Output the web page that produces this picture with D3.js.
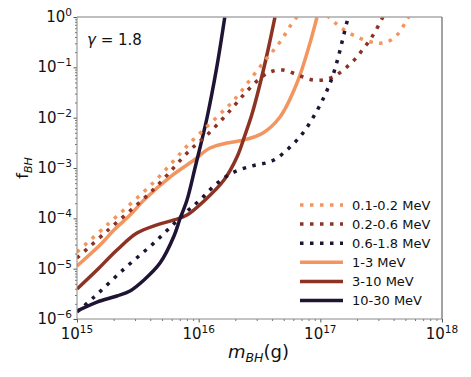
<!DOCTYPE html>
<html>
<head>
<meta charset="utf-8">
<script src="https://cdn.jsdelivr.net/npm/d3@7"></script>
<style>
body { margin: 0; background: #fff; }
svg { font-family: "DejaVu Sans", sans-serif; }
</style>
</head>
<body>
<div id="chart"></div>
<script>
/*
Data (mass in g, f_BH fraction)
*/
const labels = ["0.1-0.2 MeV", "0.2-0.6 MeV", "0.6-1.8 MeV", "1-3 MeV", "3-10 MeV", "10-30 MeV"];
const colors = ["#f3955e", "#8c3323", "#1f1433", "#f3955e", "#8c3323", "#1f1433"];
const dotted = [true, true, true, false, false, false];

const m_01 = [1e15, 1.765e15, 4.29e15, 8.49e15, 1.47e16, 1.952e16, 3.193e16, 4.66e16, 6.43e16, 8.7e16, 1.2e17, 1.45e17, 2.0e17, 2.92e17, 3.53e17, 4.27e17, 5.25e17, 6.0e17];
const f_01 = [2.14e-5, 7.37e-5, 5.27e-4, 3.14e-3, 1.13e-2, 2.24e-2, 0.102, 0.319, 1.0, 1.65, 0.955, 0.633, 0.401, 0.304, 0.319, 0.439, 0.955, 1.7];

const m_02 = [1e15, 1.765e15, 4.29e15, 8.49e15, 1.171e16, 1.71e16, 2.544e16, 3.378e16, 4.08e16, 4.93e16, 5.96e16, 7.2e16, 8.7e16, 1.052e17, 1.271e17, 1.507e17, 1.753e17, 2.0e17, 2.242e17, 2.56e17, 2.87e17, 3.27e17, 3.6e17];
const f_02 = [1.63e-5, 5.6e-5, 3.83e-4, 2.28e-3, 4.52e-3, 1.18e-2, 3.55e-2, 6.73e-2, 8.45e-2, 8.85e-2, 7.71e-2, 6.43e-2, 5.6e-2, 5.6e-2, 6.43e-2, 8.45e-2, 0.116, 0.16, 0.231, 0.349, 0.552, 1.0, 1.51];

const m_06 = [1e15, 1.354e15, 2.434e15, 4.38e15, 7.72e15, 1.025e16, 1.362e16, 1.879e16, 2.744e16, 4.01e16, 5.53e16, 7.2e16, 8.87e16, 1.072e17, 1.247e17, 1.397e17, 1.536e17, 1.688e17, 1.786e17];
const f_06 = [1.38e-6, 2.61e-6, 9.84e-6, 3.39e-5, 1.28e-4, 2.31e-4, 4.59e-4, 7.95e-4, 1.1e-3, 1.38e-3, 2.49e-3, 4.96e-3, 1.08e-2, 2.57e-2, 6.14e-2, 0.153, 0.383, 0.955, 1.51];

const m_1 = [1e15, 1.545e15, 2.014e15, 2.727e15, 3.553e15, 5.81e15, 9.16e15, 1.239e16, 1.71e16, 2.358e16, 3.378e16, 4.66e16, 6.43e16, 8.22e16, 9.39e16];
const f_1 = [1.13e-5, 2.95e-5, 5.86e-5, 1.16e-4, 2.31e-4, 6.62e-4, 1.44e-3, 2.49e-3, 3.14e-3, 3.6e-3, 4.96e-3, 1.03e-2, 4.88e-2, 0.304, 1.0];

const m_3 = [1e15, 1.46e15, 2.13e15, 3.11e15, 4.54e15, 6.27e15, 8.02e15, 1.107e16, 1.616e16, 2.065e16, 2.403e16, 2.744e16, 3.193e16, 3.714e16, 4.24e16];
const f_3 = [3.94e-6, 9.4e-6, 2.35e-5, 5.1e-5, 7.4e-5, 9.3e-5, 1.16e-4, 2.21e-4, 5.77e-4, 1.65e-3, 4.52e-3, 1.18e-2, 4.67e-2, 0.221, 1.0];

const m_10 = [1e15, 1.46e15, 2.13e15, 2.727e15, 3.553e15, 4.81e15, 6.27e15, 7.01e15, 8.02e15, 9.33e15, 1.17e16, 1.41e16, 1.64e16];
const f_10 = [1.44e-6, 2.17e-6, 2.86e-6, 3.6e-6, 5.95e-6, 1.29e-5, 4.46e-5, 9.7e-5, 2.31e-4, 1.0e-3, 9.85e-3, 0.102, 1.0];

const masses = [m_01, m_02, m_06, m_1, m_3, m_10];
const fracs = [f_01, f_02, f_06, f_1, f_3, f_10];

const x_ticks = [1e15, 1e16, 1e17, 1e18];
const x_exp = ["15", "16", "17", "18"];
const y_ticks = [1, 1e-1, 1e-2, 1e-3, 1e-4, 1e-5, 1e-6];
const y_exp = ["0", "\u22121", "\u22122", "\u22123", "\u22124", "\u22125", "\u22126"];

/*
Layout
*/
const W = 471, H = 377;
const margin = { left: 77, right: 29, top: 17, bottom: 58 };
const pw = W - margin.left - margin.right;
const ph = H - margin.top - margin.bottom;

const svg = d3.select("#chart").append("svg")
    .attr("width", W).attr("height", H);

const x = d3.scaleLog().domain([1e15, 1e18]).range([0, pw]);
const y = d3.scaleLog().domain([1e-6, 1]).range([ph, 0]);

const g = svg.append("g").attr("transform", `translate(${margin.left},${margin.top})`);

svg.append("defs").append("clipPath").attr("id", "clip")
    .append("rect").attr("width", pw).attr("height", ph);

// minor + major ticks
const is_major = v => Math.abs(Math.log10(v) - Math.round(Math.log10(v))) < 1e-6;

const xMinor = x.ticks(30).filter(v => !is_major(v));
const yMinor = y.ticks(30).filter(v => !is_major(v));

g.append("g").attr("transform", `translate(0,${ph})`)
    .call(d3.axisBottom(x).tickValues(xMinor).tickSize(2).tickFormat(""))
    .call(a => a.select(".domain").remove())
    .selectAll("line").attr("stroke", "#777");
g.append("g").attr("transform", `translate(0,${ph})`)
    .call(d3.axisBottom(x).tickValues(x_ticks).tickSize(3.5).tickFormat(""))
    .call(a => a.select(".domain").remove())
    .selectAll("line").attr("stroke", "#555");
g.append("g")
    .call(d3.axisLeft(y).tickValues(yMinor).tickSize(2).tickFormat(""))
    .call(a => a.select(".domain").remove())
    .selectAll("line").attr("stroke", "#777");
g.append("g")
    .call(d3.axisLeft(y).tickValues(y_ticks).tickSize(3.5).tickFormat(""))
    .call(a => a.select(".domain").remove())
    .selectAll("line").attr("stroke", "#555");

// tick labels with superscripts
x_ticks.forEach((v, i) => {
    const t = g.append("text")
        .attr("x", x(v)).attr("y", ph + 20)
        .attr("text-anchor", "middle")
        .attr("font-size", 15).attr("fill", "#111");
    t.append("tspan").text("10");
    t.append("tspan").attr("font-size", 10.5).attr("dy", -6).text(x_exp[i]);
});
y_ticks.forEach((v, i) => {
    const t = g.append("text")
        .attr("x", -5).attr("y", y(v) + 5)
        .attr("text-anchor", "end")
        .attr("font-size", 15).attr("fill", "#111");
    t.append("tspan").text("10");
    t.append("tspan").attr("font-size", 10.5).attr("dy", -6).text(y_exp[i]);
});

// curves
const line = d3.line()
    .x((d, i) => x(d[0]))
    .y(d => y(d[1]))
    .curve(d3.curveCatmullRom.alpha(0.5));

const lines = g.append("g").attr("clip-path", "url(#clip)");
// draw solid first then dotted, matching the stacking in the reference
const order = [3, 4, 5, 0, 1, 2];
order.forEach(k => {
    const pts = d3.zip(masses[k], fracs[k]);
    lines.append("path")
        .attr("d", line(pts))
        .attr("fill", "none")
        .attr("stroke", colors[k])
        .attr("stroke-width", 3.5)
        .attr("stroke-dasharray", dotted[k] ? "3.5,6.5" : null);
});

// spines
g.append("line").attr("x1", 0).attr("x2", pw).attr("y1", 0).attr("y2", 0)
    .attr("stroke", "#aaa").attr("stroke-width", 1.5);
g.append("line").attr("x1", pw).attr("x2", pw).attr("y1", 0).attr("y2", ph)
    .attr("stroke", "#666").attr("stroke-width", 1.2);
g.append("line").attr("x1", 0).attr("x2", pw).attr("y1", ph).attr("y2", ph)
    .attr("stroke", "#888").attr("stroke-width", 1);
g.append("line").attr("x1", 0).attr("x2", 0).attr("y1", 0).attr("y2", ph)
    .attr("stroke", "#888").attr("stroke-width", 1);

// gamma annotation
const ann = g.append("text").attr("x", 10).attr("y", 28)
    .attr("font-size", 15).attr("fill", "#111");
ann.append("tspan").attr("font-style", "italic").text("\u03b3");
ann.append("tspan").text(" = 1.8");

// legend
const leg = g.append("g").attr("transform", "translate(223,188)");
labels.forEach((lab, i) => {
    const row = leg.append("g").attr("transform", `translate(0,${i * 19.1})`);
    row.append("line")
        .attr("x1", 0).attr("x2", 43).attr("y1", 0).attr("y2", 0)
        .attr("stroke", colors[i]).attr("stroke-width", 3.5)
        .attr("stroke-dasharray", dotted[i] ? "3.5,6.5" : null);
    row.append("text").attr("x", 52).attr("y", 4.5)
        .attr("font-size", 13).attr("fill", "#111").text(lab);
});

// axis labels
const xl = svg.append("text").attr("x", 228).attr("y", 358)
    .attr("font-size", 18).attr("fill", "#111");
xl.append("tspan").attr("font-style", "italic").text("m");
xl.append("tspan").attr("font-style", "italic").attr("font-size", 12.5).attr("dy", 4).text("BH");
xl.append("tspan").attr("dy", -4).text("(g)");

const yl = svg.append("text")
    .attr("transform", "translate(28,168) rotate(-90)")
    .attr("text-anchor", "middle")
    .attr("font-size", 16).attr("fill", "#111");
yl.append("tspan").text("f");
yl.append("tspan").attr("font-style", "italic").attr("font-size", 11).attr("dy", 4).text("BH");
</script>
</body>
</html>
